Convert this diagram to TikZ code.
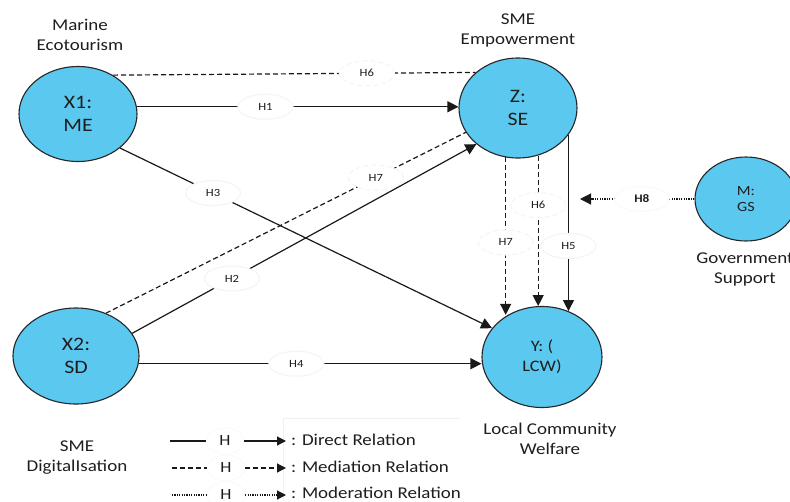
\documentclass[tikz,border=0pt]{standalone}
\usepackage{fontspec}
\setmainfont{Carlito}[FakeStretch=1.15]
\usetikzlibrary{shapes.geometric,arrows.meta}
\definecolor{nodeblue}{RGB}{91,200,240}
\definecolor{txt}{RGB}{30,30,30}
\tikzset{
  latent/.style={ellipse,draw=black!85,line width=1.1pt,fill=nodeblue,inner sep=0pt,align=center,text=txt},
  hlabel/.style={ellipse,fill=white,draw=black!4,minimum width=55pt,minimum height=25pt,inner sep=0pt,font=\fontsize{11}{12}\selectfont,text=txt},
  lh/.style={ellipse,fill=white,draw=black!4,minimum width=38pt,minimum height=26pt,inner sep=0pt,font=\fontsize{15.5}{18}\selectfont,text=txt},
  caption/.style={align=center,font=\fontsize{16.5}{20}\selectfont,text=txt},
  legtext/.style={anchor=west,font=\fontsize{16.5}{18}\selectfont,text=txt,inner sep=0pt},
  direct/.style={line width=1.2pt,draw=black!90},
  mediation/.style={direct,dash pattern=on 5pt off 3pt},
  moderation/.style={direct,dash pattern=on 1.2pt off 1.2pt},
  tip/.style={-{Triangle[length=11pt,width=11pt]}},
  ltip/.style={-{Triangle[length=9pt,width=9pt]}},
}
\begin{document}
\begin{tikzpicture}[x=1pt,y=-1pt]
\useasboundingbox (0,0) rectangle (790,501);
% latent variables
\node[latent,minimum width=118pt,minimum height=95pt,font=\fontsize{19}{23}\selectfont] (x1) at (78,114) {X1:\\ME};
\node[latent,minimum width=118pt,minimum height=100pt,font=\fontsize{19}{23}\selectfont] (z) at (518,108) {Z:\\SE};
\node[latent,minimum width=102pt,minimum height=84pt,font=\fontsize{14}{16}\selectfont] (m) at (746,199) {M:\\GS};
\node[latent,minimum width=126pt,minimum height=96pt,font=\fontsize{19}{23}\selectfont] (x2) at (76,356) {X2:\\SD};
\node[latent,minimum width=120pt,minimum height=101pt,font=\fontsize{16}{20}\selectfont] (y) at (542,357) {Y: (\\LCW)};
% captions
\node[caption] (cx1) at (80,35) {Marine\\Ecotourism};
\node[caption] (cz) at (518,30) {SME\\Empowerment};
\node[caption] (cx2) at (77,458) {SME\\DigitalIsation};
\node[caption] (cy) at (550,439) {Local Community\\Welfare};
\node[caption] (cm) at (745,269) {Government\\Support};
% relations
\draw[mediation] (x1.48) -- (z.140) node[hlabel,pos=0.70] {H6};
\draw[direct,tip] (x1.7) -- (x1.7 -| z.west) node[hlabel,pos=0.40] {H1};
\draw[direct,tip] (x1.-39) -- (y.150) node[hlabel,pos=0.25] {H3};
\draw[mediation] (x2.55) -- (z.205) node[hlabel,pos=0.75] {H7};
\draw[direct,tip] (x2.22) -- (z.221) node[hlabel,pos=0.29] {H2};
\draw[direct,tip] (x2.-7) -- (x2.-7 -| y.west) node[hlabel,pos=0.46] {H4};
\draw[mediation,tip] (z.256) -- (z.256 |- y.129) node[hlabel,pos=0.54] {H7};
\draw[mediation,tip] (z.293) -- (z.293 |- y.94.5) node[hlabel,pos=0.33] {H6};
\draw[direct,tip] (z.332) -- (z.332 |- y.60.5) node[hlabel,pos=0.63] {H5};
\coordinate (h8tip) at (580,202);
\draw[moderation,tip] (m.west) -- (m.west -| h8tip) node[hlabel,pos=0.46,font=\fontsize{11.5}{12}\selectfont\bfseries] {H8};
% legend
\draw[black!6] (283,501) -- (283,418) -- (460,418);
\coordinate (la1) at (170,441); \coordinate (lb1) at (286,441);
\coordinate (la2) at (172,468); \coordinate (lb2) at (286,468);
\coordinate (la3) at (172,495); \coordinate (lb3) at (286,495);
\node[lh] (lh3) at (226,495) {H};
\node[lh] (lh2) at (226,468) {H};
\node[lh] (lh1) at (225,441) {H};
\draw[direct] (la1) -- (lh1); \draw[direct,ltip] (lh1) -- (lb1);
\draw[mediation] (la2) -- (lh2); \draw[mediation,ltip] (lh2) -- (lb2);
\draw[moderation] (la3) -- (lh3); \draw[moderation,ltip] (lh3) -- (lb3);
\node[legtext] (lt1) at (291,440) {: Direct Relation};
\node[legtext] (lt2) at (291,467) {: Mediation Relation};
\node[legtext] (lt3) at (291,493) {: Moderation Relation};
\end{tikzpicture}
\end{document}
